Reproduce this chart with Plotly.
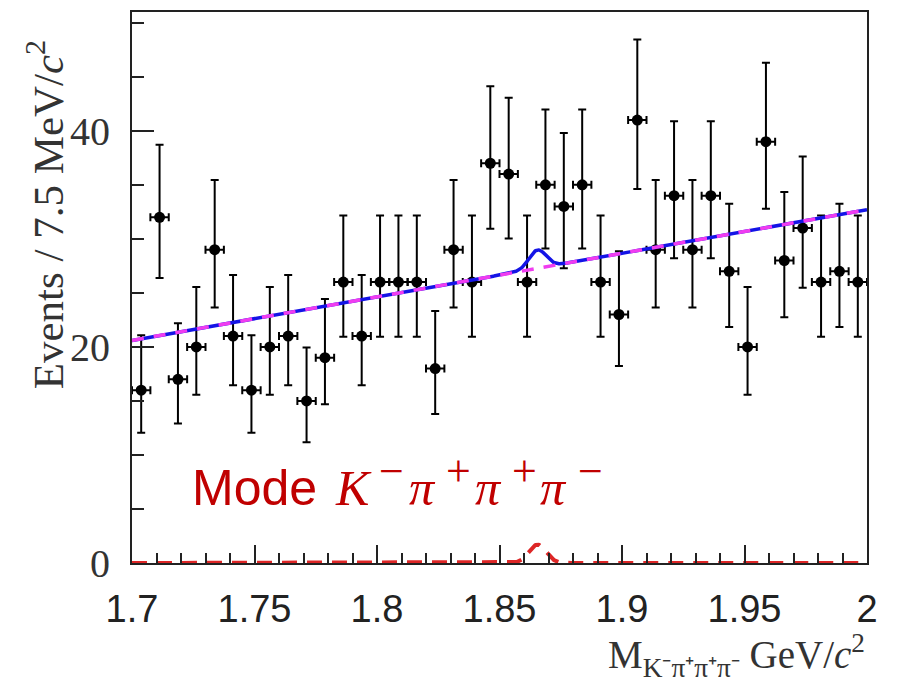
import numpy as np
import plotly.graph_objects as go

# ---- data ----
x_lo, x_hi = 1.7, 2.0
bin_width = 0.0075
counts = [16, 32, 17, 20, 29, 21, 16, 20, 21, 15,
          19, 26, 21, 26, 26, 26, 18, 29, 26, 37,
          36, 26, 35, 33, 35, 26, 23, 41, 29, 34,
          29, 34, 27, 20, 39, 28, 31, 26, 27, 26]

# fit components
bg_at_lo, bg_at_hi = 20.6, 32.7
sig_amp, sig_mean, sig_sigma = 1.7, 1.8655, 0.0035

x_tickvals = [1.7, 1.75, 1.8, 1.85, 1.9, 1.95, 2.0]
x_ticktext = ["1.7", "1.75", "1.8", "1.85", "1.9", "1.95", "2"]
y_tickvals = [0, 20, 40]

# ---- derived ----
n = np.array(counts, dtype=float)
centers = x_lo + (np.arange(len(counts)) + 0.5) * bin_width
# Poisson (Garwood) 68% intervals, Wilson-Hilferty approximation
nn = np.maximum(n, 1)
lo = np.where(n > 0, n * (1 - 1 / (9 * nn) - 1 / (3 * np.sqrt(nn))) ** 3, 0)
hi = (n + 1) * (1 - 1 / (9 * (n + 1)) + 1 / (3 * np.sqrt(n + 1))) ** 3
err_lo = n - lo
err_hi = hi - n

xf = np.linspace(x_lo, x_hi, 1201)
bg = bg_at_lo + (bg_at_hi - bg_at_lo) * (xf - x_lo) / (x_hi - x_lo)
sig = sig_amp * np.exp(-0.5 * ((xf - sig_mean) / sig_sigma) ** 2)
tot = bg + sig

fig = go.Figure()

fig.add_trace(go.Scatter(
    x=centers, y=n, mode="markers",
    marker=dict(color="black", size=11),
    error_y=dict(type="data", symmetric=False, array=err_hi, arrayminus=err_lo,
                 color="black", thickness=2, width=4),
    error_x=dict(type="constant", value=bin_width / 2, color="black", thickness=2, width=4),
    showlegend=False, hoverinfo="x+y"))

fig.add_trace(go.Scatter(x=xf, y=sig, mode="lines",
                         line=dict(color="rgba(215,0,0,0.85)", width=4, dash="15px,10px"),
                         showlegend=False))
fig.add_trace(go.Scatter(x=xf, y=tot, mode="lines",
                         line=dict(color="#1414e6", width=3.5), showlegend=False))
fig.add_trace(go.Scatter(x=xf, y=bg, mode="lines",
                         line=dict(color="#f03cf0", width=3.5, dash="12px,10px"),
                         showlegend=False))

axis_common = dict(showgrid=False, zeroline=False, showline=True, linecolor="#222",
                   linewidth=2, mirror=True, ticks="inside", tickcolor="#222", tickwidth=2)

fig.update_xaxes(range=[x_lo, x_hi], tickvals=x_tickvals, ticktext=x_ticktext,
                 ticklen=18, ticklabelstandoff=11,
                 tickfont=dict(family="Liberation Sans, Arial", size=38, color="#222"),
                 minor=dict(dtick=0.01, ticks="inside", ticklen=10, tickwidth=2, tickcolor="#222"),
                 **axis_common)
fig.update_yaxes(range=[0, 51], tickvals=y_tickvals, ticklen=22, ticklabelstandoff=12,
                 tickfont=dict(family="Liberation Serif, Times New Roman", size=40, color="#333"),
                 minor=dict(dtick=5, ticks="inside", ticklen=12, tickwidth=2, tickcolor="#222"),
                 **axis_common)

fig.add_annotation(xref="paper", yref="paper", x=-0.119, y=0.632,
                   text="Events / 7.5 MeV/<i>c</i><sup>2</sup>", textangle=-90,
                   showarrow=False, xanchor="center", yanchor="middle",
                   font=dict(family="Liberation Serif, Times New Roman", size=43, color="#333"))

fig.add_annotation(xref="paper", yref="paper", x=1.0, y=-0.168,
                   text="M<sub>K⁻π⁺π⁺π⁻</sub> GeV/<i>c</i><sup>2</sup>",
                   showarrow=False, xanchor="right", yanchor="middle",
                   font=dict(family="Liberation Serif, Times New Roman", size=39, color="#333"))

# "Mode K- pi+ pi+ pi-" label, built from pieces (paper coords)
W, H = 735.0, 553.0
red = "#c00000"
def put(text, px, py, fam, size, anchor="left", italic=False):
    t = "<i>%s</i>" % text if italic else text
    fig.add_annotation(xref="paper", yref="paper", x=(px - 131.7) / W, y=(563 - py) / H,
                       text=t, showarrow=False, xanchor=anchor, yanchor="middle",
                       font=dict(family=fam, size=size, color=red))

serif = "Liberation Serif, Times New Roman"
put("Mode", 190, 488, "Liberation Sans, Arial", 50)
put("K", 333, 488, serif, 50, italic=True)
put("−", 391, 471, serif, 44, anchor="center")
put("π", 407, 488, serif, 50, italic=True)
put("+", 458, 471, serif, 44, anchor="center")
put("π", 473, 488, serif, 50, italic=True)
put("+", 524, 471, serif, 44, anchor="center")
put("π", 538, 488, serif, 50, italic=True)
put("−", 590, 471, serif, 44, anchor="center")

fig.update_layout(width=902, height=683, paper_bgcolor="white", plot_bgcolor="white",
                  margin=dict(l=132, r=35, t=10, b=120), showlegend=False)

fig.write_html("out.html")
